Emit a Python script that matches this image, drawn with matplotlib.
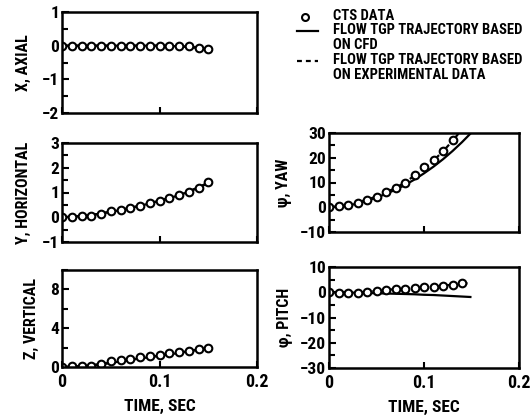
import matplotlib
matplotlib.use("Agg")
import matplotlib.pyplot as plt
from matplotlib.ticker import MultipleLocator
from matplotlib import font_manager

names = {f.name for f in font_manager.fontManager.ttflist}
NARROW = 'Roboto Condensed' if 'Roboto Condensed' in names else 'Roboto'
plt.rcParams['font.family'] = [NARROW, 'DejaVu Sans']
FONT = dict(family=[NARROW, 'DejaVu Sans'], fontweight='bold')

# ---- data ----
t_pts = [0.00, 0.01, 0.02, 0.03, 0.04, 0.05, 0.06, 0.07, 0.08, 0.09, 0.10,
         0.11, 0.12, 0.13, 0.14, 0.15]
x_pts = [0.0, 0.0, 0.0, 0.0, 0.0, 0.0, 0.0, 0.0, 0.0, 0.0, 0.0, 0.0, 0.0,
         -0.02, -0.06, -0.1]
y_pts = [0.0, 0.02, 0.04, 0.07, 0.15, 0.24, 0.28, 0.37, 0.45, 0.57, 0.67,
         0.77, 0.90, 1.04, 1.20, 1.41]
z_pts = [0.0, 0.07, 0.07, 0.14, 0.30, 0.60, 0.75, 0.86, 1.00, 1.14, 1.25,
         1.40, 1.57, 1.70, 1.86, 1.96]
t_yaw = [0.00, 0.01, 0.02, 0.03, 0.04, 0.05, 0.06, 0.07, 0.08, 0.09, 0.10,
         0.11, 0.12, 0.13]
yaw_pts = [0.0, 0.4, 0.9, 1.9, 3.1, 4.3, 6.1, 7.8, 10.0, 13.0, 16.1, 19.0,
           22.8, 27.0]
t_pitch = [0.00, 0.01, 0.02, 0.03, 0.04, 0.05, 0.06, 0.07, 0.08, 0.09, 0.10,
           0.11, 0.12, 0.13, 0.14]
pitch_pts = [0.0, -0.2, -0.2, -0.2, 0.0, 0.4, 1.0, 1.2, 1.2, 1.6, 1.9, 2.1,
             2.5, 2.9, 3.5]

t_line = [0.00, 0.01, 0.02, 0.03, 0.04, 0.05, 0.06, 0.07, 0.08, 0.09, 0.10,
          0.11, 0.12, 0.13, 0.14, 0.15]
x_cfd = [0.0, 0.0, 0.0, 0.0, 0.0, 0.0, 0.0, 0.0, 0.0, 0.0, 0.0, -0.01, -0.02,
         -0.04, -0.07, -0.1]
x_exp = [0.0, 0.0, 0.0, 0.0, 0.0, 0.0, 0.0, 0.0, 0.0, 0.0, 0.0, -0.01, -0.02,
         -0.03, -0.06, -0.09]
y_cfd = [0.0, 0.02, 0.05, 0.09, 0.15, 0.22, 0.29, 0.37, 0.46, 0.56, 0.66,
         0.77, 0.89, 1.03, 1.19, 1.38]
y_exp = [0.0, 0.02, 0.05, 0.09, 0.15, 0.23, 0.30, 0.38, 0.47, 0.57, 0.67,
         0.78, 0.91, 1.05, 1.21, 1.40]
z_cfd = [0.0, 0.03, 0.08, 0.16, 0.28, 0.42, 0.58, 0.73, 0.88, 1.02, 1.16,
         1.30, 1.45, 1.61, 1.78, 1.95]
z_exp = [0.0, 0.04, 0.09, 0.18, 0.30, 0.45, 0.61, 0.76, 0.90, 1.04, 1.18,
         1.33, 1.48, 1.64, 1.81, 1.98]
yaw_cfd = [0.0, 0.2, 0.7, 1.5, 2.6, 3.9, 5.4, 7.1, 9.0, 11.2, 13.7, 16.4,
           19.4, 22.7, 26.3, 30.2]
yaw_exp = [0.0, 0.4, 0.9, 1.9, 3.1, 4.3, 6.0, 7.8, 10.0, 12.8, 15.8, 18.9,
           22.6, 26.8, 31.5, 36.0]
pitch_cfd = [0.0, 0.0, -0.1, -0.2, -0.3, -0.4, -0.5, -0.6, -0.7, -0.8, -1.0,
             -1.1, -1.3, -1.5, -1.7, -1.9]
pitch_exp = [0.0, -0.1, -0.1, -0.1, 0.1, 0.5, 1.0, 1.2, 1.3, 1.6, 1.9, 2.2,
             2.6, 3.0, 3.5, 3.6]

xticklabels = ['0', '0.1', '0.2']

W, H = 530, 418
fig = plt.figure(figsize=(W / 100, H / 100), dpi=100)


def mkax(x0, x1, ytop, ybot):
    return fig.add_axes([x0 / W, 1 - ybot / H, (x1 - x0) / W, (ybot - ytop) / H])


def style(ax, ylim, yticks, minor, ylabel, bottom, lpad):
    ax.set_xlim(0, 0.2)
    ax.set_ylim(*ylim)
    for s in ax.spines.values():
        s.set_linewidth(1.8)
    ax.set_yticks(yticks)
    ax.set_yticklabels([str(v).replace('-', '\u2212') for v in yticks], **FONT, fontsize=12.5)
    ax.yaxis.set_minor_locator(MultipleLocator(minor))
    ax.set_xticks([0, 0.1, 0.2])
    ax.tick_params(axis='y', which='both', direction='in', length=5, width=1.5, pad=2)
    ax.tick_params(axis='y', which='minor', length=4)
    ax.tick_params(axis='x', direction='in', length=4, width=1.5, pad=4)
    if bottom:
        ax.set_xticklabels(xticklabels, **FONT, fontsize=13)
        ax.set_xlabel('TIME, SEC', **FONT, fontsize=12.5, labelpad=6)
    else:
        ax.set_xticklabels([])
    ax.set_ylabel(ylabel, **FONT, fontsize=11.5, labelpad=lpad)


def draw(ax, tp, vp, vc, ve):
    ax.plot(t_line, vc, color='black', lw=1.6, solid_capstyle='butt')
    ax.plot(t_line, ve, color='black', lw=1.6, ls=(0, (4, 2.5)))
    ax.plot(tp, vp, ls='none', marker='o', ms=5.5, mfc='white', mec='black', mew=1.5)


ax1 = mkax(62, 257, 12, 113)
draw(ax1, t_pts, x_pts, x_cfd, x_exp)
style(ax1, (-2, 1), [1, 0, -1, -2], 0.5, 'X, AXIAL', False, 8)

ax2 = mkax(62, 257, 143, 242)
draw(ax2, t_pts, y_pts, y_cfd, y_exp)
style(ax2, (-1, 3), [3, 2, 1, 0, -1], 0.5, 'Y, HORIZONTAL', False, 8)

ax3 = mkax(62, 257, 270, 367)
draw(ax3, t_pts, z_pts, z_cfd, z_exp)
style(ax3, (0, 10), [0, 4, 8], 2, 'Z, VERTICAL', True, 8)

ax4 = mkax(329, 519, 133, 232)
draw(ax4, t_yaw, yaw_pts, yaw_cfd, yaw_exp)
style(ax4, (-10, 30), [30, 20, 10, 0, -10], 5, '\u03c8, YAW', False, 6)

ax5 = mkax(329, 519, 267, 368)
draw(ax5, t_pitch, pitch_pts, pitch_cfd, pitch_exp)
style(ax5, (-30, 10), [10, 0, -10, -20, -30], 5, '\u03c6, PITCH', True, 6)

# ---- legend ----
lf = dict(FONT, fontsize=10.5, va='center', ha='left')
fig.lines.append(plt.Line2D([305 / W], [1 - 17 / H], marker='o', ms=5, mfc='white',
                            mec='black', mew=1.5, transform=fig.transFigure))
fig.text(333 / W, 1 - 16 / H, 'CTS DATA', **lf)
fig.lines.append(plt.Line2D([297 / W, 318 / W], [1 - 31 / H, 1 - 31 / H], color='black',
                            lw=1.6, transform=fig.transFigure))
fig.text(333 / W, 1 - 30 / H, 'FLOW TGP TRAJECTORY BASED', **lf)
fig.text(333 / W, 1 - 45 / H, 'ON CFD', **lf)
fig.lines.append(plt.Line2D([297 / W, 318 / W], [1 - 61 / H, 1 - 61 / H], color='black',
                            lw=1.6, ls=(0, (2.2, 1.8)), transform=fig.transFigure))
fig.text(333 / W, 1 - 60 / H, 'FLOW TGP TRAJECTORY BASED', **lf)
fig.text(333 / W, 1 - 75 / H, 'ON EXPERIMENTAL DATA', **lf)

fig.savefig('out.png', dpi=100)
